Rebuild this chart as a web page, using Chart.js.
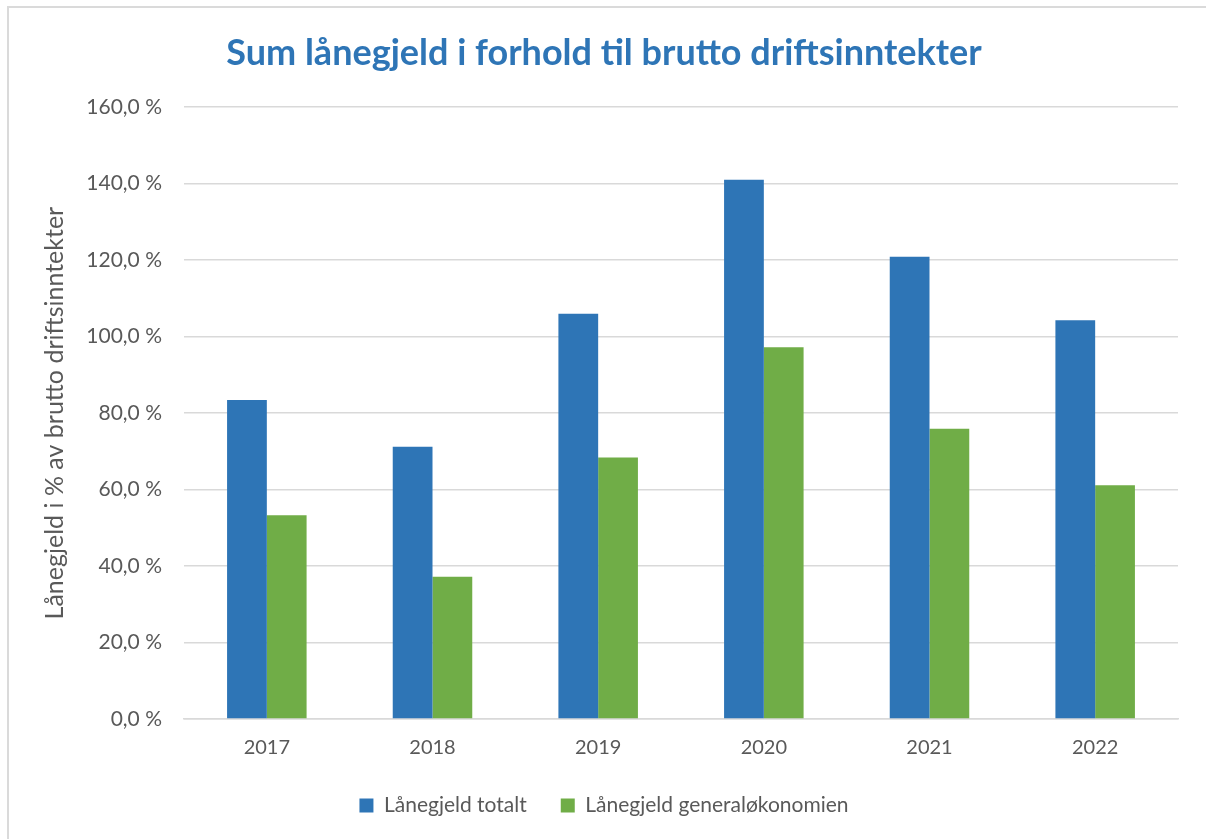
<!DOCTYPE html>
<html>
<head>
<meta charset="utf-8">
<script src="https://cdn.jsdelivr.net/npm/chart.js@4/dist/chart.umd.min.js"></script>
<style>
  html, body { margin: 0; padding: 0; background: #fff; }
  #wrap { position: relative; width: 1206px; height: 839px; }
  #frame {
    position: absolute; left: 7px; top: 6px; right: -4px; bottom: -4px;
    border: 2px solid #dadada; box-sizing: border-box;
  }
  canvas { position: absolute; left: 0; top: 0; }
</style>
</head>
<body>
<div id="wrap">
  <div id="frame"></div>
  <canvas id="chart" width="1206" height="839"></canvas>
</div>
<script>
// Data
const years = ['2017', '2018', '2019', '2020', '2021', '2022'];
const totalDebt = [83.4, 71.2, 106.0, 141.0, 120.9, 104.3];
const generalDebt = [53.3, 37.2, 68.4, 97.2, 75.9, 61.1];

const FONT = 'Lato, "Open Sans", sans-serif';
const GREY_TEXT = '#595959';
const GRID = '#d9d9d9';
const PAD_LEFT = 30;

const ctx = document.getElementById('chart').getContext('2d');
const chart = new Chart(ctx, {
  type: 'bar',
  data: {
    labels: years,
    datasets: [
      {
        label: 'Lånegjeld totalt',
        data: totalDebt,
        backgroundColor: '#2E75B6'
      },
      {
        label: 'Lånegjeld generaløkonomien',
        data: generalDebt,
        backgroundColor: '#70AD47'
      }
    ]
  },
  options: {
    responsive: false,
    animation: false,
    layout: {
      padding: { left: PAD_LEFT, right: 28, top: 0, bottom: 13 }
    },
    datasets: {
      bar: { categoryPercentage: 0.48, barPercentage: 1.0 }
    },
    scales: {
      x: {
        afterFit: scale => { scale.height = 42; },
        grid: { display: false, drawTicks: false },
        border: { display: true, color: GRID, width: 1.5 },
        ticks: {
          color: GREY_TEXT,
          font: { family: FONT, size: 20 },
          padding: 17
        }
      },
      y: {
        min: 0,
        max: 160,
        afterFit: scale => { scale.width = 184 - PAD_LEFT; },
        ticks: {
          stepSize: 20,
          color: GREY_TEXT,
          font: { family: FONT, size: 21 },
          padding: 22,
          callback: v => v.toFixed(1).replace('.', ',') + ' %'
        },
        grid: { color: GRID, lineWidth: 1.5, drawTicks: false },
        border: { display: false },
        title: {
          display: true,
          text: 'Lånegjeld i % av brutto driftsinntekter',
          color: GREY_TEXT,
          font: { family: FONT, size: 25 },
          padding: { top: 10, bottom: 0 }
        }
      }
    },
    plugins: {
      title: {
        display: true,
        text: 'Sum lånegjeld i forhold til brutto driftsinntekter',
        color: '#2E75B6',
        font: { family: FONT, size: 36, weight: 'bold' },
        padding: { top: 32, bottom: 32 }
      },
      legend: {
        position: 'bottom',
        labels: {
          color: GREY_TEXT,
          font: { family: FONT, size: 21 },
          boxWidth: 14,
          boxHeight: 14,
          padding: 34
        }
      },
      tooltip: { enabled: false }
    }
  }
});
</script>
</body>
</html>
